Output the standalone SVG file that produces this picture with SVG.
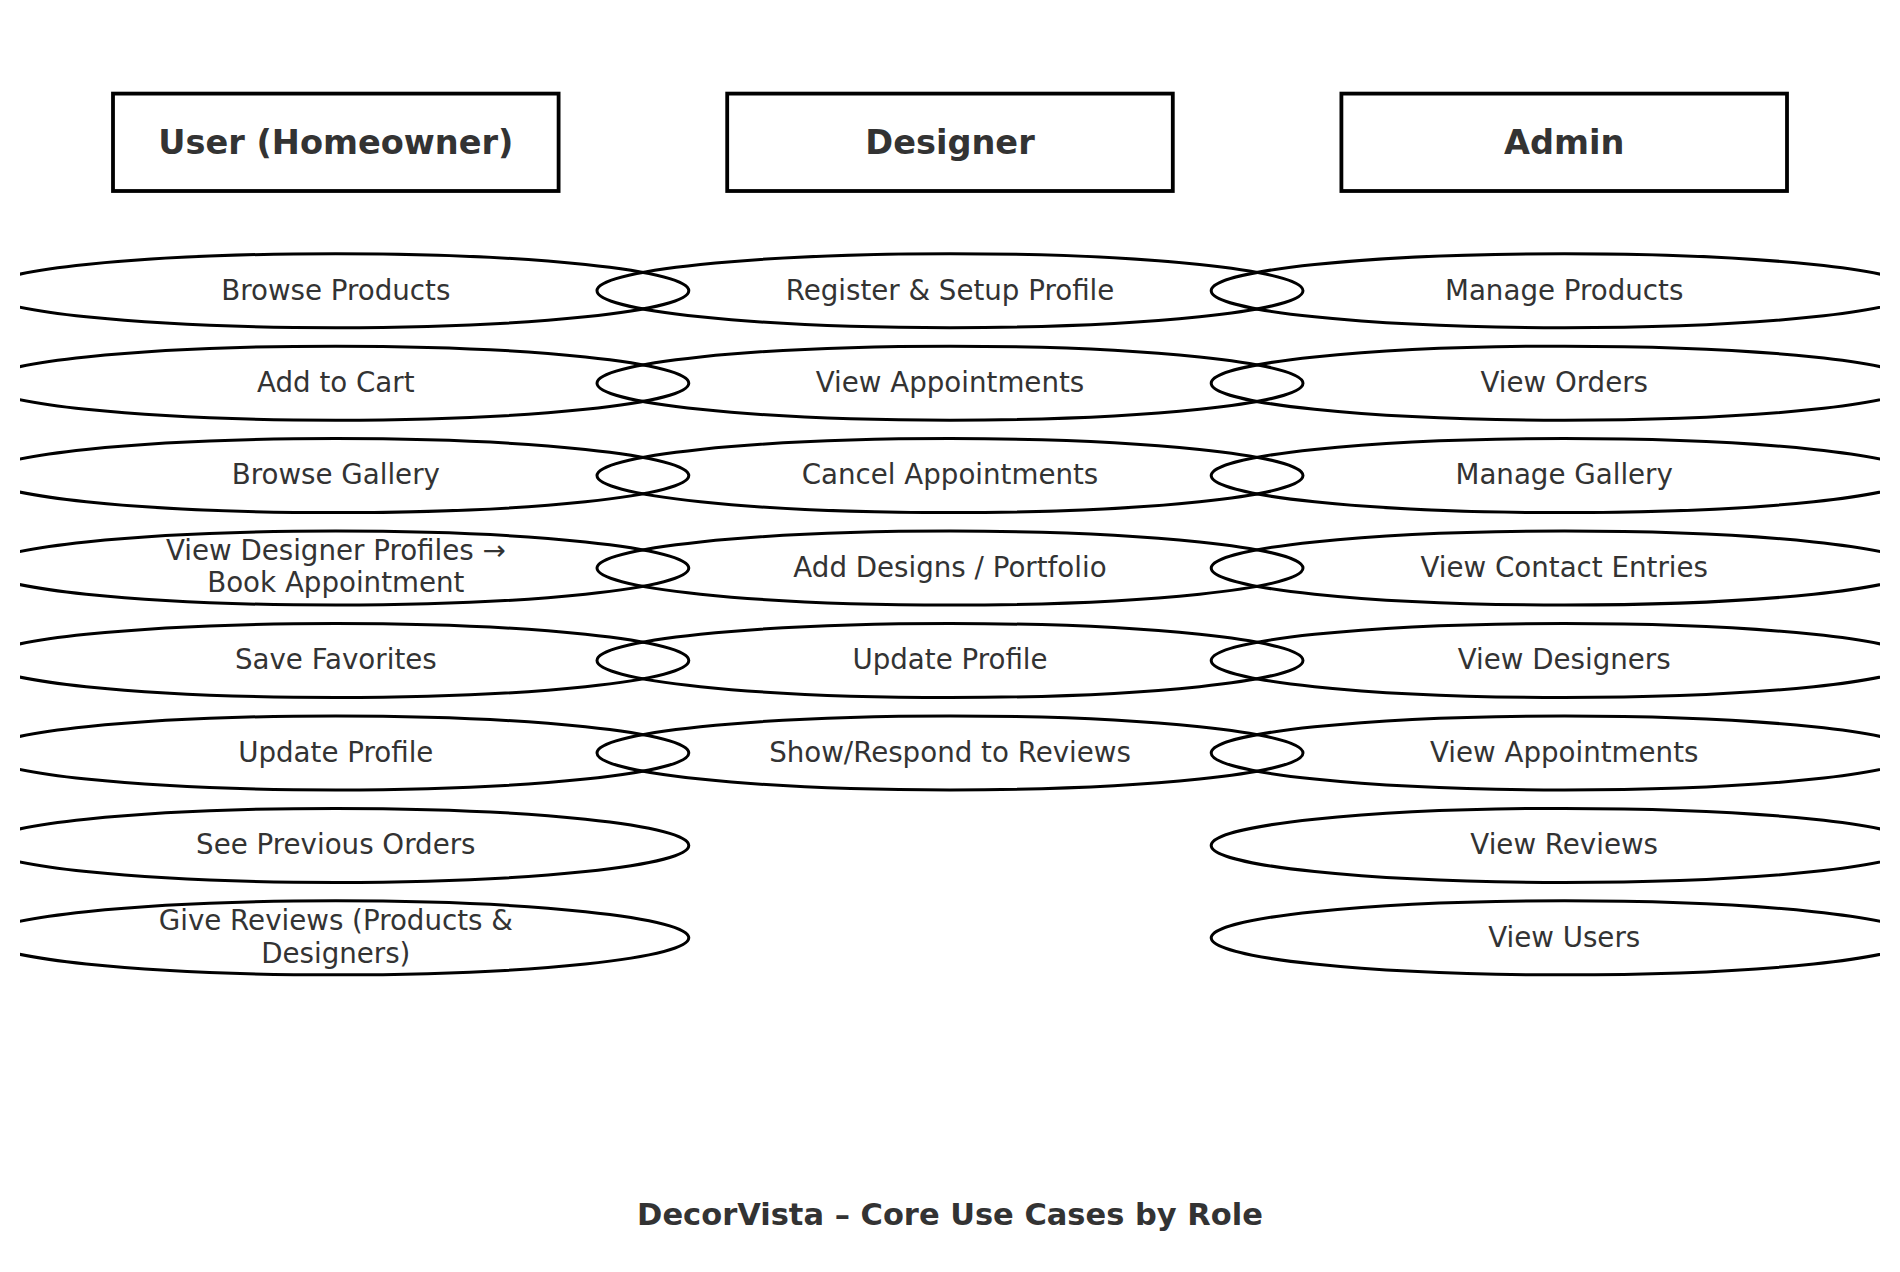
<svg xmlns="http://www.w3.org/2000/svg" width="1900" height="1272" viewBox="0 0 1900 1272">
<style>
.bg{fill:#ffffff}
.actor{fill:none;stroke:#000;stroke-width:3.8}
.uc{fill:none;stroke:#000;stroke-width:3}
.ht{font-family:"DejaVu Sans","Liberation Sans",sans-serif;font-weight:bold;font-size:33.6px;fill:#333333;text-anchor:middle}
.t{font-family:"DejaVu Sans","Liberation Sans",sans-serif;font-size:27.7px;fill:#333333;text-anchor:middle}
.title{font-family:"DejaVu Sans","Liberation Sans",sans-serif;font-weight:bold;font-size:30.5px;fill:#333333;text-anchor:middle}
</style>
<defs>
<clipPath id="plot"><rect x="20" y="0" width="1860" height="1272"/></clipPath>
</defs>
<rect class="bg" x="0" y="0" width="1900" height="1272"/>

<g id="actor-user"><rect class="actor" x="113" y="93.6" width="445.6" height="97.4"/><text class="ht" x="335.8" y="153.6">User (Homeowner)</text></g>
<g id="actor-designer"><rect class="actor" x="727.2" y="93.6" width="445.6" height="97.4"/><text class="ht" x="950" y="153.6">Designer</text></g>
<g id="actor-admin"><rect class="actor" x="1341.4" y="93.6" width="445.6" height="97.4"/><text class="ht" x="1564.2" y="153.6">Admin</text></g>

<g clip-path="url(#plot)">
<g id="u1"><ellipse class="uc" cx="335.8" cy="290.7" rx="353" ry="37"/><text class="t" x="335.8" y="299.5">Browse Products</text></g>
<g id="u2"><ellipse class="uc" cx="335.8" cy="383.15" rx="353" ry="37"/><text class="t" x="335.8" y="392">Add to Cart</text></g>
<g id="u3"><ellipse class="uc" cx="335.8" cy="475.6" rx="353" ry="37"/><text class="t" x="335.8" y="484.4">Browse Gallery</text></g>
<g id="u4"><ellipse class="uc" cx="335.8" cy="568.05" rx="353" ry="37"/><text class="t" x="335.8" y="560.2">View Designer Profiles →</text><text class="t" x="335.8" y="592.3">Book Appointment</text></g>
<g id="u5"><ellipse class="uc" cx="335.8" cy="660.5" rx="353" ry="37"/><text class="t" x="335.8" y="669.3">Save Favorites</text></g>
<g id="u6"><ellipse class="uc" cx="335.8" cy="752.95" rx="353" ry="37"/><text class="t" x="335.8" y="761.8">Update Profile</text></g>
<g id="u7"><ellipse class="uc" cx="335.8" cy="845.4" rx="353" ry="37"/><text class="t" x="335.8" y="854.2">See Previous Orders</text></g>
<g id="u8"><ellipse class="uc" cx="335.8" cy="937.85" rx="353" ry="37"/><text class="t" x="335.8" y="930.2">Give Reviews (Products &amp;</text><text class="t" x="335.8" y="962.8">Designers)</text></g>

<g id="d1"><ellipse class="uc" cx="950" cy="290.7" rx="353" ry="37"/><text class="t" x="950" y="299.5">Register &amp; Setup Profile</text></g>
<g id="d2"><ellipse class="uc" cx="950" cy="383.15" rx="353" ry="37"/><text class="t" x="950" y="392">View Appointments</text></g>
<g id="d3"><ellipse class="uc" cx="950" cy="475.6" rx="353" ry="37"/><text class="t" x="950" y="484.4">Cancel Appointments</text></g>
<g id="d4"><ellipse class="uc" cx="950" cy="568.05" rx="353" ry="37"/><text class="t" x="950" y="576.9">Add Designs / Portfolio</text></g>
<g id="d5"><ellipse class="uc" cx="950" cy="660.5" rx="353" ry="37"/><text class="t" x="950" y="669.3">Update Profile</text></g>
<g id="d6"><ellipse class="uc" cx="950" cy="752.95" rx="353" ry="37"/><text class="t" x="950" y="761.8">Show/Respond to Reviews</text></g>

<g id="a1"><ellipse class="uc" cx="1564.2" cy="290.7" rx="353" ry="37"/><text class="t" x="1564.2" y="299.5">Manage Products</text></g>
<g id="a2"><ellipse class="uc" cx="1564.2" cy="383.15" rx="353" ry="37"/><text class="t" x="1564.2" y="392">View Orders</text></g>
<g id="a3"><ellipse class="uc" cx="1564.2" cy="475.6" rx="353" ry="37"/><text class="t" x="1564.2" y="484.4">Manage Gallery</text></g>
<g id="a4"><ellipse class="uc" cx="1564.2" cy="568.05" rx="353" ry="37"/><text class="t" x="1564.2" y="576.9">View Contact Entries</text></g>
<g id="a5"><ellipse class="uc" cx="1564.2" cy="660.5" rx="353" ry="37"/><text class="t" x="1564.2" y="669.3">View Designers</text></g>
<g id="a6"><ellipse class="uc" cx="1564.2" cy="752.95" rx="353" ry="37"/><text class="t" x="1564.2" y="761.8">View Appointments</text></g>
<g id="a7"><ellipse class="uc" cx="1564.2" cy="845.4" rx="353" ry="37"/><text class="t" x="1564.2" y="854.2">View Reviews</text></g>
<g id="a8"><ellipse class="uc" cx="1564.2" cy="937.85" rx="353" ry="37"/><text class="t" x="1564.2" y="946.7">View Users</text></g>
</g>

<g id="connectors"></g>

<g id="title"><text class="title" x="950" y="1225.3">DecorVista – Core Use Cases by Role</text></g>
</svg>
